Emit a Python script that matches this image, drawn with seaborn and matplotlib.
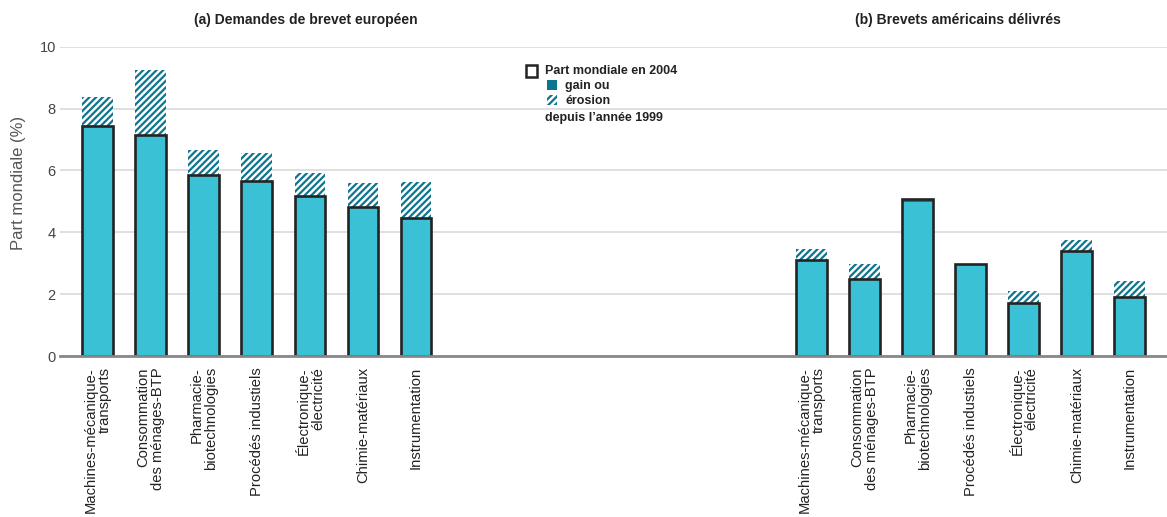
import matplotlib
matplotlib.use("Agg")
import matplotlib.pyplot as plt
from matplotlib.patches import Rectangle
import numpy as np
import pandas as pd
import seaborn as sns

# Technology fields (same list for both panels)
categories = [
    "Machines-mécanique-\ntransports",
    "Consommation\ndes ménages-BTP",
    "Pharmacie-\nbiotechnologies",
    "Procédés industiels",
    "Électronique-\nélectricité",
    "Chimie-matériaux",
    "Instrumentation",
]

# (a) European patent applications: world share (%)
epo_2004 = [7.42, 7.13, 5.86, 5.67, 5.16, 4.82, 4.45]
epo_1999 = [8.37, 9.25, 6.65, 6.56, 5.92, 5.59, 5.63]

# (b) US patents granted: world share (%)
us_2004 = [3.10, 2.48, 5.08, 2.98, 1.70, 3.41, 1.90]
us_1999 = [3.47, 2.96, 4.97, 2.93, 2.09, 3.76, 2.41]

panel_titles = ["(a) Demandes de brevet européen", "(b) Brevets américains délivrés"]
yticks = [0, 2, 4, 6, 8, 10]

LIGHT = "#3bc1d6"
TEAL = "#0b7590"
OUTLINE = "#232323"
GRID = "#dddddd"
HATCH = "/////"

sns.set_theme(style="white")
plt.rcParams["font.family"] = ["Liberation Sans", "DejaVu Sans"]
plt.rcParams["hatch.linewidth"] = 1.6

# Second panel sits to the right of the first on a shared value axis
right_offset = 13.45
pos = np.r_[np.arange(7), right_offset + np.arange(7)]
df = pd.DataFrame({
    "pos": pos,
    "label": categories + categories,
    "v2004": epo_2004 + us_2004,
    "v1999": epo_1999 + us_1999,
})
df["low"] = df[["v2004", "v1999"]].min(axis=1)
erosion = df[df["v1999"] > df["v2004"]]
gain = df[df["v2004"] >= df["v1999"]]

fig = plt.figure(figsize=(11.67, 5.17), dpi=100)
ax = fig.add_axes([60 / 1167, 1 - 356 / 517, 1 - 60 / 1167, (356 - 46.7) / 517])

W = 0.58
common = dict(native_scale=True, width=W, saturation=1, errorbar=None, ax=ax)

# Erosion since 1999: hatched band up to the 1999 share
sns.barplot(data=erosion, x="pos", y="v1999", color="white", edgecolor=TEAL,
            linewidth=0, hatch=HATCH, zorder=2, **common)
# Gain since 1999: solid dark band up to the 2004 share
sns.barplot(data=gain, x="pos", y="v2004", color=TEAL, linewidth=0, zorder=3, **common)
# Light part of the 2004 box
sns.barplot(data=df, x="pos", y="low", color=LIGHT, linewidth=0, zorder=4, **common)
# Outline of the 2004 share
sns.barplot(data=df, x="pos", y="v2004", fill=False, edgecolor=OUTLINE,
            linewidth=1.9, zorder=5, **common)
for p in ax.patches[-len(df):]:
    p.set_facecolor("none")
    p.set_edgecolor(OUTLINE)
    p.set_linewidth(1.9)

ax.set_xlim(-0.71, 20.15)
ax.set_ylim(0, 10)
ax.set_yticks(yticks)
ax.set_yticklabels([str(t) for t in yticks], fontsize=10.5, color="#444444")
ax.set_xticks(df["pos"])
ax.set_xticklabels(df["label"], rotation=90, fontsize=10.6, color="#222222",
                   ha="center", va="top", multialignment="right",
                   linespacing=1.0)
ax.tick_params(axis="both", length=0)
ax.tick_params(axis="x", pad=8)
ax.tick_params(axis="y", pad=3)
ax.set_xlabel("")
ax.set_ylabel("Part mondiale (%)", fontsize=12, color="#555555")
ax.yaxis.set_label_coords(-0.031, 0.56)

ax.grid(axis="y", color=GRID, linewidth=1.3, zorder=0)
ax.set_axisbelow(True)
for s in ["top", "right", "left"]:
    ax.spines[s].set_visible(False)
ax.spines["bottom"].set_color("#888888")
ax.spines["bottom"].set_linewidth(2)
ax.spines["bottom"].set_zorder(6)

# Panel titles
fig.text(306 / 1167, 1 - 20 / 517, panel_titles[0], ha="center", va="center",
         fontsize=10, fontweight="bold", color="#222222")
fig.text(958 / 1167, 1 - 20 / 517, panel_titles[1], ha="center", va="center",
         fontsize=10, fontweight="bold", color="#222222")

# Key
def fig_rect(x0, y0, w, h, **kw):
    r = Rectangle((x0 / 1167, 1 - (y0 + h) / 517), w / 1167, h / 517,
                  transform=fig.transFigure, **kw)
    fig.add_artist(r)

fig_rect(526, 65.5, 11, 11, facecolor="white", edgecolor=OUTLINE, linewidth=1.8)
fig_rect(547, 80, 9.5, 9.5, facecolor=TEAL, edgecolor=TEAL, linewidth=0)
fig_rect(547, 95, 9.5, 9.5, facecolor="white", edgecolor=TEAL, linewidth=0, hatch=HATCH)
key_kw = dict(fontsize=9, fontweight="bold", color="#222222", va="center", ha="left")
fig.text(545 / 1167, 1 - 71 / 517, "Part mondiale en 2004", **key_kw)
fig.text(565 / 1167, 1 - 86 / 517, "gain ou", **key_kw)
fig.text(565 / 1167, 1 - 101 / 517, "érosion", **key_kw)
fig.text(545 / 1167, 1 - 118 / 517, "depuis l’année 1999", **key_kw)

fig.savefig("out.png", dpi=100)
